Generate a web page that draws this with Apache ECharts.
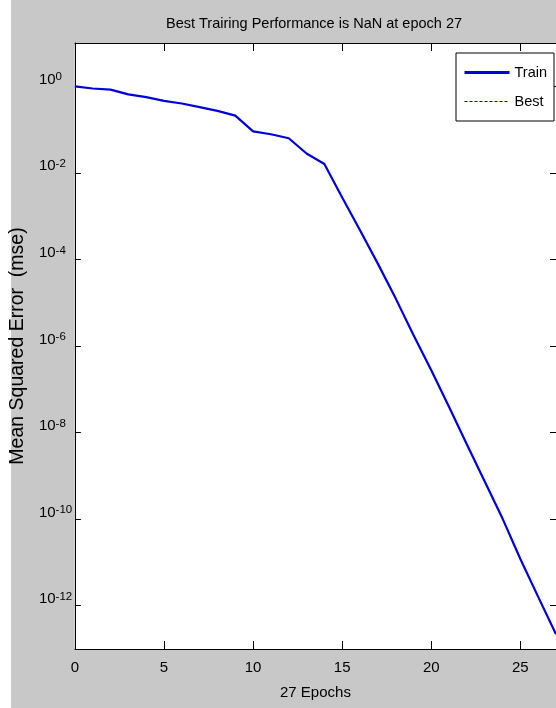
<!DOCTYPE html>
<html>
<head>
<meta charset="utf-8">
<script src="https://cdn.jsdelivr.net/npm/echarts@6/dist/echarts.min.js"></script>
<style>
html,body{margin:0;padding:0;background:#fff;}
#chart{width:556px;height:708px;}
</style>
</head>
<body>
<div id="chart"></div>
<script>
// Data
const epochs = [0,1,2,3,4,5,6,7,8,9,10,11,12,13,14,15,16,17,18,19,20,21,22,23,24,25,26,27];
const trainMse = [1.0, 0.89, 0.84, 0.65, 0.56, 0.46, 0.40, 0.33, 0.27, 0.21,
  0.091, 0.078, 0.063, 0.028, 0.016, 2.7e-3, 4.7e-4, 8.0e-5, 1.26e-5, 1.8e-6,
  2.75e-7, 3.9e-8, 5.3e-9, 7.4e-10, 1.03e-10, 1.2e-11, 1.6e-12, 2.2e-13];
const bestMse = []; // NaN in the reference: nothing drawn
const yTickExponents = [0, -2, -4, -6, -8, -10, -12];
const titleText = 'Best Trairing Performance is NaN at epoch 27';
const xName = '27 Epochs';
const yName = 'Mean Squared Error  (mse)';

const FONT = "'Liberation Sans', Arial, sans-serif";
const BLUE = '#0000d8';
const CLEAR = 'rgba(0,0,0,0)';

const chart = echarts.init(document.getElementById('chart'), null, {renderer: 'canvas'});

const trainData = epochs.map((e, i) => [e, Math.log10(trainMse[i])]);
const bestData = bestMse.map((v, i) => [epochs[i], Math.log10(v)]);

const xCommon = {
  type: 'value', min: 0, max: 27, interval: 5,
  axisLine: {onZero: false, lineStyle: {color: '#000', width: 1}},
  axisTick: {inside: true, length: 8, lineStyle: {color: '#000', width: 1}},
  splitLine: {show: false}
};
const yCommon = {
  type: 'value', min: -13, max: 1,
  axisLine: {onZero: false, lineStyle: {color: '#000', width: 1}},
  axisTick: {inside: true, length: 6, customValues: yTickExponents, lineStyle: {color: '#000', width: 1}},
  splitLine: {show: false}
};

chart.setOption({
  backgroundColor: '#fff',
  animation: false,
  graphic: [{
    type: 'rect', z: -100, silent: true,
    shape: {x: 11, y: 0, width: 545, height: 708},
    style: {fill: '#c8c8c8'}
  }],
  title: {
    text: titleText,
    left: 314, top: 16, textAlign: 'center', padding: 0,
    textStyle: {fontFamily: FONT, fontSize: 14.5, fontWeight: 'normal', color: '#000'}
  },
  legend: {
    orient: 'vertical', left: 456, top: 53,
    padding: [12, 7, 12, 7], itemGap: 14, itemWidth: 45, itemHeight: 14,
    backgroundColor: '#fff', borderColor: '#000', borderWidth: 1, borderRadius: 0,
    textStyle: {fontFamily: FONT, fontSize: 14.5, color: '#000'},
    data: [
      {name: 'Train', lineStyle: {width: 3, color: BLUE},
       itemStyle: {color: CLEAR, borderColor: CLEAR, borderWidth: 0, opacity: 0}},
      {name: 'Best', lineStyle: {width: 1.2, type: [3, 2], color: BLUE},
       itemStyle: {color: CLEAR, borderColor: CLEAR, borderWidth: 0, opacity: 0}}
    ]
  },
  grid: {
    left: 74, top: 43, width: 484, bottom: 59,
    show: true, backgroundColor: '#fff', borderWidth: 0
  },
  xAxis: [
    Object.assign({}, xCommon, {
      position: 'bottom',
      axisLabel: {color: '#000', fontFamily: FONT, fontSize: 15, margin: 11, showMaxLabel: false},
      name: xName, nameLocation: 'middle', nameGap: 44,
      nameTextStyle: {fontFamily: FONT, fontSize: 15, color: '#000', verticalAlign: 'middle'}
    }),
    Object.assign({}, xCommon, {position: 'top', axisLabel: {show: false}})
  ],
  yAxis: [
    Object.assign({}, yCommon, {
      position: 'left',
      axisLabel: {
        customValues: yTickExponents,
        align: 'left', margin: 36, color: '#000',
        padding: [0, 0, 14, 0],
        formatter: v => '{b|10}{s|' + v + '}',
        rich: {
          b: {fontFamily: FONT, fontSize: 15, lineHeight: 16, color: '#000', verticalAlign: 'bottom'},
          s: {fontFamily: FONT, fontSize: 11.5, lineHeight: 12, color: '#000', verticalAlign: 'top'}
        }
      },
      name: yName, nameLocation: 'middle', nameGap: 51, nameRotate: 90,
      nameTextStyle: {fontFamily: FONT, fontSize: 19.5, color: '#000', verticalAlign: 'middle'}
    }),
    Object.assign({}, yCommon, {position: 'right', axisLabel: {show: false}})
  ],
  series: [
    {
      name: 'Train', type: 'line', data: trainData,
      xAxisIndex: 0, yAxisIndex: 0,
      showSymbol: false, symbol: 'none', clip: true,
      lineStyle: {color: BLUE, width: 2.2},
      itemStyle: {color: BLUE}
    },
    {
      name: 'Best', type: 'line', data: bestData,
      xAxisIndex: 0, yAxisIndex: 0,
      showSymbol: false, symbol: 'none',
      lineStyle: {color: BLUE, width: 1.2, type: [3, 2]},
      itemStyle: {color: BLUE}
    }
  ]
});
</script>
</body>
</html>
